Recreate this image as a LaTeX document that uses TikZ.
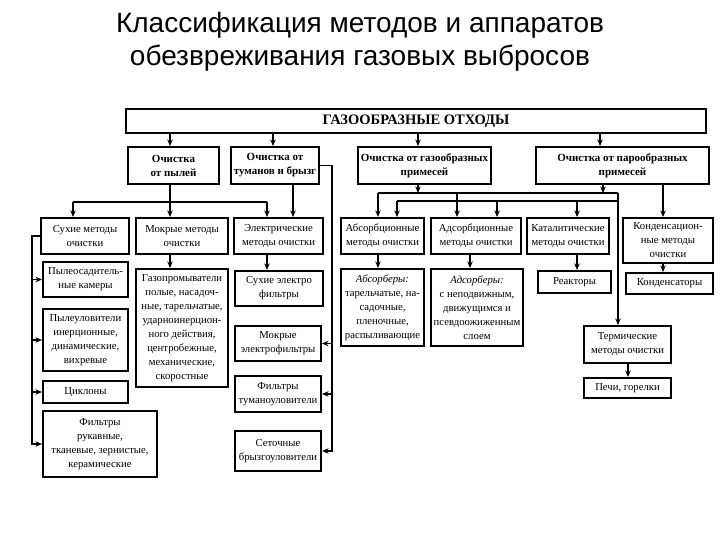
\documentclass[tikz,border=0pt]{standalone}
\usepackage{fontspec}
\setmainfont{Liberation Serif}
\newfontfamily\titlefont{Liberation Sans}
\usetikzlibrary{arrows.meta}
\tikzset{
  box/.style={draw, line width=2pt, inner sep=0.5pt, align=center, anchor=north west,
    font=\fontsize{10.7}{14}\selectfont},
  hbox/.style={box, font=\bfseries\fontsize{11}{14}\selectfont},
  tbox/.style={box, font=\bfseries\fontsize{14.5}{16}\selectfont},
  ln/.style={line width=1.5pt},
  arr/.style={line width=1.5pt, -{Stealth[length=6.5pt,width=5.5pt]}},
}
\newcommand\bxn[7][box]{\node[#1, minimum width={(#5-#3)*1pt}, minimum height={(#6-#4)*1pt}] (#2) at (#3,#4) {#7};}
\begin{document}
\begin{tikzpicture}[x=1pt,y=-1pt]
\fill[white] (0,0) rectangle (720,540);
\useasboundingbox (0,0) rectangle (720,540);
\node[font=\titlefont\fontsize{28}{33}\selectfont, align=center, inner sep=0pt] (title) at (360,42)
  {Классификация методов и аппаратов\\обезвреживания газовых выбросов};
% top
\bxn[tbox]{T}{125}{108}{705}{132}{ГАЗООБРАЗНЫЕ ОТХОДЫ}
% level 1
\bxn[hbox]{b1}{127}{146}{218}{183}{Очистка\\от пылей}
\bxn[hbox]{b2}{230}{146}{318}{183}{Очистка от\\туманов и брызг}
\bxn[hbox]{b3}{357}{146}{490}{183}{Очистка от газообразных\\примесей}
\bxn[hbox]{b4}{535}{146}{708}{183}{Очистка от парообразных\\примесей}
% level 2
\bxn{s1}{40}{217}{128}{253}{Сухие методы\\очистки}
\bxn{m1}{135}{217}{227}{253}{Мокрые методы\\очистки}
\bxn{e1}{233}{217}{322}{253}{Электрические\\методы очистки}
\bxn{ab}{340}{217}{423}{253}{Абсорбционные\\методы очистки}
\bxn{ad}{430}{217}{520}{253}{Адсорбционные\\методы очистки}
\bxn{ka}{526}{217}{608}{253}{Каталитические\\методы очистки}
\bxn{kd}{622}{217}{712}{262}{Конденсацион-\\ные методы\\очистки}
% level 3
\bxn{ps}{42}{261}{127}{296}{Пылеосадитель-\\ные камеры}
\bxn{gp}{135}{268}{227}{386}{Газопромыватели\\полые, насадоч-\\ные, тарельчатые,\\ударноинерцион-\\ного действия,\\центробежные,\\механические,\\скоростные}
\bxn{se}{234}{270}{322}{305}{Сухие электро\\фильтры}
\bxn{abr}{340}{268}{423}{345}{\textit{Абсорберы:}\\тарельчатые, на-\\садочные,\\пленочные,\\распыливающие}
\bxn{adr}{430}{268}{522}{345}{\textit{Адсорберы:}\\с неподвижным,\\движущимся и\\псевдоожиженным\\слоем}
\bxn{re}{537}{270}{610}{292}{Реакторы}
\bxn{kn}{625}{272}{712}{293}{Конденсаторы}
% level 4
\bxn{pu}{42}{308}{127}{370}{Пылеуловители\\инерционные,\\динамические,\\вихревые}
\bxn{me}{234}{325}{320}{360}{Мокрые\\электрофильтры}
\bxn{th}{583}{325}{670}{362}{Термические\\методы очистки}
\bxn{cy}{42}{380}{127}{402}{Циклоны}
\bxn{ft}{234}{375}{320}{411}{Фильтры\\туманоуловители}
\bxn{pe}{583}{377}{670}{397}{Печи, горелки}
\bxn{fr}{42}{410}{156}{476}{Фильтры\\рукавные,\\тканевые, зернистые,\\керамические}
\bxn{sb}{234}{430}{320}{470}{Сеточные\\брызгоуловители}
% connectors from top
\foreach \x/\n in {170/b1, 273/b2, 418/b3, 600/b4}
  \draw[arr] (\x,0 |- T.south) -- (\x,0 |- \n.north);
% dust
\coordinate (dj) at (170,202);
\draw[ln] (170,0 |- b1.south) -- (dj);
\draw[ln] (73,202) -- (267,202);
\draw[arr] (73,202) -- (73,0 |- s1.north);
\draw[arr] (dj) -- (170,0 |- m1.north);
\draw[arr] (267,202) -- (267,0 |- e1.north);
\draw[arr] (293,0 |- b2.south) -- (293,0 |- e1.north);
\draw[arr] (170,0 |- m1.south) -- (170,0 |- gp.north);
\draw[arr] (267,0 |- e1.south) -- (267,0 |- se.north);
% left column
\draw[arr] (s1.west) -| (32,0 |- fr.west) -- (fr.west);
\draw[arr] (32,0 |- ps.west) -- (ps.west);
\draw[arr] (32,0 |- pu.west) -- (pu.west);
\draw[arr] (32,0 |- cy.west) -- (cy.west);
% mist
\draw[arr] (b2.east) -| (332,0 |- sb.east) -- (sb.east);
\draw[arr] (332,0 |- me.east) -- (me.east);
\draw[arr] (332,0 |- ft.east) -- (ft.east);
% gas
\draw[arr] (418,0 |- b3.south) -- (418,193);
\draw[arr] (603,0 |- b4.south) -- (603,193);
\draw[ln] (378,193) -- (618,193);
\draw[ln] (397,201) -- (618,201);
\draw[arr] (618,193) -- (618,0 |- th.north);
\draw[arr] (378,193) -- (378,0 |- ab.north);
\draw[arr] (397,201) -- (397,0 |- ab.north);
\draw[arr] (457,193) -- (457,0 |- ad.north);
\draw[arr] (497,201) -- (497,0 |- ad.north);
\draw[arr] (577,201) -- (577,0 |- ka.north);
\draw[arr] (663,0 |- b4.south) -- (663,0 |- kd.north);
% level 2 -> 3
\draw[arr] (378,0 |- ab.south) -- (378,0 |- abr.north);
\draw[arr] (470,0 |- ad.south) -- (470,0 |- adr.north);
\draw[arr] (577,0 |- ka.south) -- (577,0 |- re.north);
\draw[arr] (663,0 |- kd.south) -- (663,0 |- kn.north);
\draw[arr] (628,0 |- th.south) -- (628,0 |- pe.north);
\end{tikzpicture}
\end{document}
